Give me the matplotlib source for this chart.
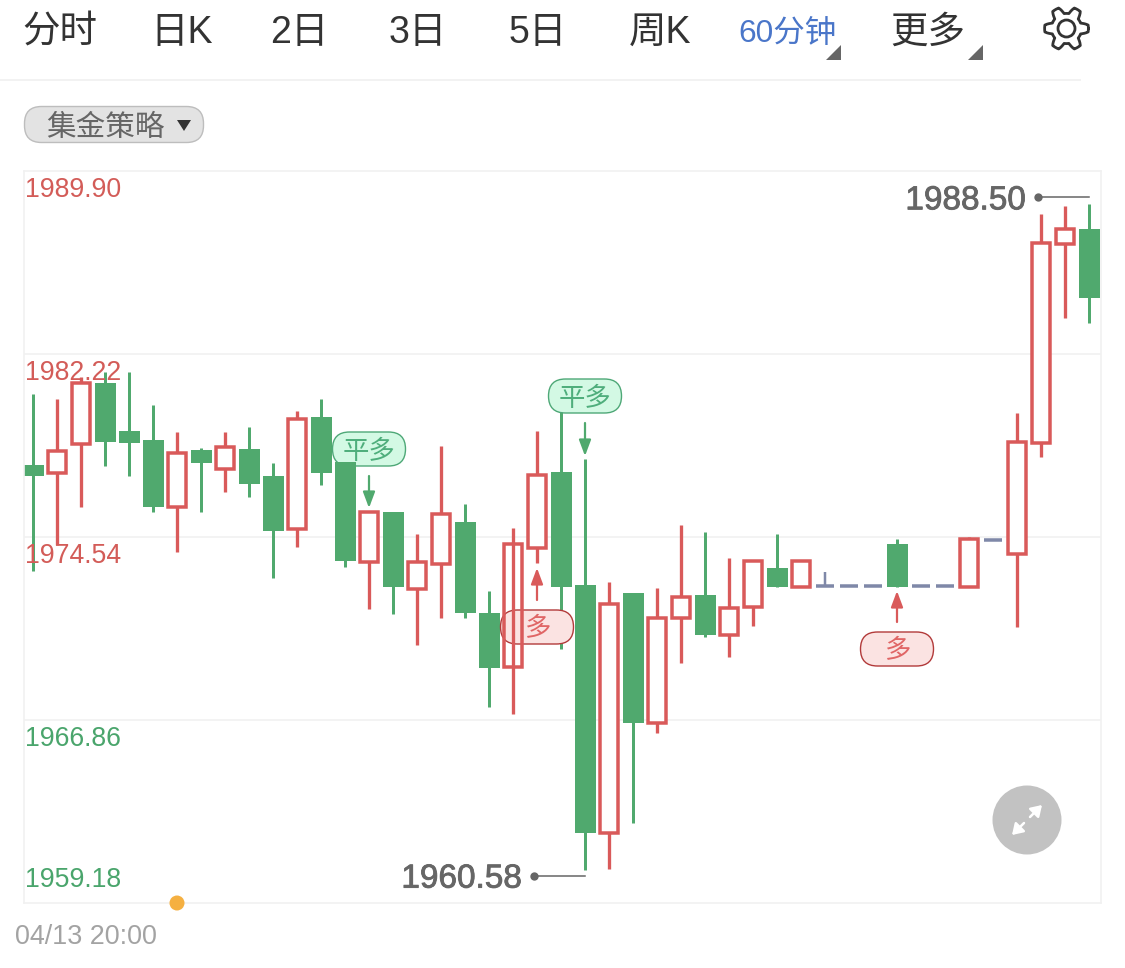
import numpy as np
import matplotlib
matplotlib.use('Agg')
import matplotlib.pyplot as plt
import matplotlib.patheffects as pe
from matplotlib.patches import FancyBboxPatch, Polygon, Circle

plt.rcParams['font.family'] = ['Liberation Sans', 'Noto Sans CJK SC', 'DejaVu Sans']

# candles, left to right: u = hollow red, d = solid green, f = flat grey dash
kinds = ['d', 'u', 'u', 'd', 'd', 'd', 'u', 'd', 'u', 'd',
         'd', 'u', 'd', 'd', 'u', 'd', 'u', 'u', 'd', 'd',
         'u', 'u', 'd', 'd', 'u', 'd', 'u', 'u', 'd', 'u',
         'u', 'd', 'u', 'f', 'f', 'f', 'd', 'f', 'f', 'u',
         'f', 'u', 'u', 'u', 'd']
highs = [1980.54, 1980.33, 1981.25, 1981.46, 1981.46, 1980.08, 1978.95, 1978.27, 1978.95, 1979.16,
         1977.65, 1979.83, 1980.33, 1977.69, 1975.59, 1975.59, 1974.67, 1978.36, 1975.92, 1972.27,
         1974.92, 1978.99, 1979.83, 1977.81, 1972.65, 1972.19, 1972.40, 1975.04, 1974.75, 1973.66,
         1973.53, 1974.67, 1973.57, 1973.07, 1972.48, 1972.48, 1974.46, 1972.48, 1972.48, 1974.54,
         1974.41, 1979.74, 1988.10, 1988.43, 1988.50]
tops = [1977.56, 1978.15, 1981.00, 1981.00, 1978.99, 1978.61, 1978.06, 1978.19, 1978.32, 1978.23,
        1977.10, 1979.49, 1979.58, 1977.69, 1975.59, 1975.59, 1973.49, 1975.51, 1975.17, 1971.35,
        1974.25, 1977.14, 1977.27, 1972.52, 1971.73, 1972.19, 1971.14, 1972.02, 1972.11, 1971.56,
        1973.53, 1973.24, 1973.53, 1972.48, 1972.48, 1972.48, 1974.25, 1972.48, 1972.48, 1974.46,
        1974.41, 1978.53, 1986.88, 1987.47, 1987.47]
bottoms = [1977.10, 1977.23, 1978.44, 1978.53, 1978.48, 1975.80, 1975.80, 1977.65, 1977.39, 1976.76,
           1974.79, 1974.88, 1977.23, 1973.53, 1973.49, 1972.44, 1972.36, 1973.41, 1971.35, 1969.04,
           1969.08, 1974.08, 1972.44, 1962.12, 1962.12, 1966.73, 1966.73, 1971.14, 1970.43, 1970.43,
           1971.60, 1972.44, 1972.44, 1972.48, 1972.48, 1972.48, 1972.44, 1972.48, 1972.48, 1972.44,
           1974.41, 1973.83, 1978.48, 1986.84, 1984.57]
lows = [1973.11, 1974.20, 1975.80, 1977.52, 1977.10, 1975.59, 1973.91, 1975.59, 1976.43, 1976.22,
        1972.82, 1974.12, 1976.72, 1973.28, 1971.52, 1971.31, 1970.01, 1971.14, 1971.14, 1967.40,
        1967.11, 1973.45, 1969.84, 1960.58, 1960.61, 1962.54, 1966.31, 1969.25, 1970.34, 1969.50,
        1970.80, 1972.44, 1972.44, 1972.48, 1972.48, 1972.48, 1972.44, 1972.48, 1972.48, 1972.44,
        1974.41, 1970.76, 1977.90, 1983.73, 1983.52]

price_levels = [1989.90, 1982.22, 1974.54, 1966.86, 1959.18]
signals = [(14, '平多'), (23, '平多'), (21, '多'), (36, '多')]
tabs = ['分时', '日K', '2日', '3日', '5日', '周K', '60分钟', '更多']
strategy_label = '集金策略'
start_label = '04/13 20:00'

RED = '#d95a5a'
GREEN = '#50a96e'
DASH = '#7f88a8'
GREY = '#666666'

W, H = 1125, 968
fig = plt.figure(figsize=(W / 100, H / 100), dpi=100, facecolor='white')

# overlay in pixel coordinates, for the toolbar and the other page furniture
ov = fig.add_axes([0, 0, 1, 1], zorder=5)
ov.set_xlim(0, W)
ov.set_ylim(H, 0)
ov.axis('off')

ax = fig.add_axes([24 / W, 1 - 903 / H, (1101 - 24) / W, (903 - 171) / H], zorder=1)
ax.set_xlim(-9 / 24, (1101 - 33) / 24)
ax.set_ylim(price_levels[-1], price_levels[0])
ax.set_xticks([])
ax.set_yticks(price_levels[1:-1])
ax.tick_params(length=0, labelleft=False)
ax.grid(axis='y', color='#f1f1f1', lw=1.2)
ax.set_axisbelow(True)
for s in ax.spines.values():
    s.set_color('#f1f1f1')
    s.set_linewidth(1.2)


def to_px(i, price):
    return ov.transData.inverted().transform(ax.transData.transform((i, price)))


# candles that sit in front of a signal badge
above_badge = [13, 20]
pt = 0.72  # one pixel in points

for i, kind in enumerate(kinds):
    z = 4 if i in above_badge else 2
    if kind == 'f':
        ax.hlines(tops[i], i - 9 / 24, i + 9 / 24, color=DASH, lw=3.5 * pt, zorder=z)
        if highs[i] > tops[i]:
            ax.vlines(i, tops[i], highs[i], color=DASH, lw=2.5 * pt, zorder=z)
        continue
    c = RED if kind == 'u' else GREEN
    wick = 3.3 * pt if kind == 'u' else 3 * pt
    ax.vlines(i, lows[i], highs[i], color=c, lw=wick, zorder=z, capstyle='butt')
    if kind == 'u':
        face = 'none' if i in above_badge else 'white'
        ax.bar(i, tops[i] - bottoms[i], bottom=bottoms[i], width=17.5 / 24, facecolor=face,
               edgecolor=c, lw=3.5 * pt, zorder=z + 0.1)
    else:
        ax.bar(i, tops[i] - bottoms[i], bottom=bottoms[i], width=21 / 24, color=c, lw=0, zorder=z + 0.1)

# price labels on the left
for n, p in enumerate(price_levels):
    col = '#d35c58' if p > 1970 else '#4aa56c'
    off = 23 if n == len(price_levels) - 1 else -19
    ax.annotate('%.2f' % p, xy=(0, p), xycoords=ax.get_yaxis_transform(), xytext=(1 * pt, off * pt),
                textcoords='offset points', fontsize=19.2, color=col, va='center', ha='left', zorder=6)

# highest and lowest price marks
stroke = [pe.withStroke(linewidth=0.6, foreground=GREY)]
hi = int(np.argmax(highs))
lo = int(np.argmin(lows))
hx, hy = to_px(hi, highs[hi])
lx, ly = to_px(lo, lows[lo])
ov.plot([hx - 51, hx], [hy - 7, hy - 7], color=GREY, lw=1.1)
ov.plot([hx - 51], [hy - 7], 'o', color=GREY, ms=6.0, mew=0)
ov.text(hx - 63, hy - 3.5, '%.2f' % highs[hi], fontsize=24, color=GREY, ha='right', va='center', path_effects=stroke)
ov.plot([lx - 51, lx], [ly + 6, ly + 6], color=GREY, lw=1.1)
ov.plot([lx - 51], [ly + 6], 'o', color=GREY, ms=6.0, mew=0)
ov.text(lx - 63, ly + 9.5, '%.2f' % lows[lo], fontsize=24, color=GREY, ha='right', va='center', path_effects=stroke)

# signal badges, placed relative to their candle
badge_y = {14: 449, 23: 396, 21: 627, 36: 649}
arrow_y = {14: (476, 508), 23: (423, 456), 21: (600, 568), 36: (622, 591)}
for i, label in signals:
    x = to_px(i, 1970)[0]
    y = badge_y[i]
    flat = label == '平多'
    edge = '#4ea877' if flat else '#b23a3a'
    fill = '#d3f9e4' if flat else '#fbe3e2'
    col = '#4fae7c' if flat else '#e06666'
    ax.add_patch(FancyBboxPatch((x - 36.5, y - 17), 73, 34, boxstyle='round,pad=0,rounding_size=17',
                                fc=fill, ec=edge, lw=1.0, transform=ov.transData, zorder=3, clip_on=False))
    ax.text(x, y + 2.5, label, fontsize=19, color=col, ha='center', va='center', transform=ov.transData,
            zorder=5, clip_on=False)
    y0, y1 = arrow_y[i]
    arrow_col = GREEN if flat else RED
    ov.annotate('', xy=(x, y1), xytext=(x, y0),
                arrowprops=dict(arrowstyle='-|>,head_length=0.8,head_width=0.3', color=arrow_col, lw=1.6,
                                shrinkA=0, shrinkB=0, mutation_scale=12))

# toolbar
tab_x = [60, 182, 299, 418, 538, 660, 787, 928]
for x, t in zip(tab_x, tabs):
    if t == '60分钟':
        ov.text(x, 34, t, fontsize=22.7, color='#4a76c9', ha='center', va='center')
    else:
        ov.text(x, 33, t, fontsize=27, color='#333333', ha='center', va='center')
for x in [841, 983]:
    ov.add_patch(Polygon([(x, 45), (x, 60), (x - 15, 60)], closed=True, fc=GREY, ec='none'))
ov.plot([0, 1080], [80, 80], color='#f2f2f2', lw=1.4)

# settings gear
ang = np.linspace(0, 2 * np.pi, 361)
gear_r = 18.5 + 3.4 * np.clip(np.cos(6 * ang) * 1.7, -1, 1)
ov.plot(1066.5 + gear_r * np.cos(ang), 28.5 + gear_r * np.sin(ang), color='#333333', lw=2.0)
ov.add_patch(Circle((1066.5, 28.5), 8.5, fc='none', ec='#333333', lw=2.0))

# strategy pill
ov.add_patch(FancyBboxPatch((24.5, 106.5), 179, 36, boxstyle='round,pad=0,rounding_size=17',
                            fc='#e3e3e3', ec='#bdbdbd', lw=1.0))
ov.text(105, 128, strategy_label, fontsize=21.3, color=GREY, ha='center', va='center')
ov.add_patch(Polygon([(177, 120), (191, 120), (184, 131)], closed=True, fc='#333333', ec='none'))

# bottom left date and the slider dot
ov.text(15, 937, start_label, fontsize=19.4, color='#a3a3a3', ha='left', va='center')
ov.add_patch(Circle((177, 903), 7.5, fc='#f5b041', ec='none'))

# fullscreen button
ov.add_patch(Circle((1027, 820), 34.5, fc='#c2c2c2', ec='none'))
for a, b in [((1030, 817), (1042, 805)), ((1024, 823), (1012, 835))]:
    ov.annotate('', xy=b, xytext=a,
                arrowprops=dict(arrowstyle='-|>,head_length=0.7,head_width=0.45', color='white', lw=1.8,
                                shrinkA=0, shrinkB=0, mutation_scale=9))

fig.savefig('out.png', dpi=100)
